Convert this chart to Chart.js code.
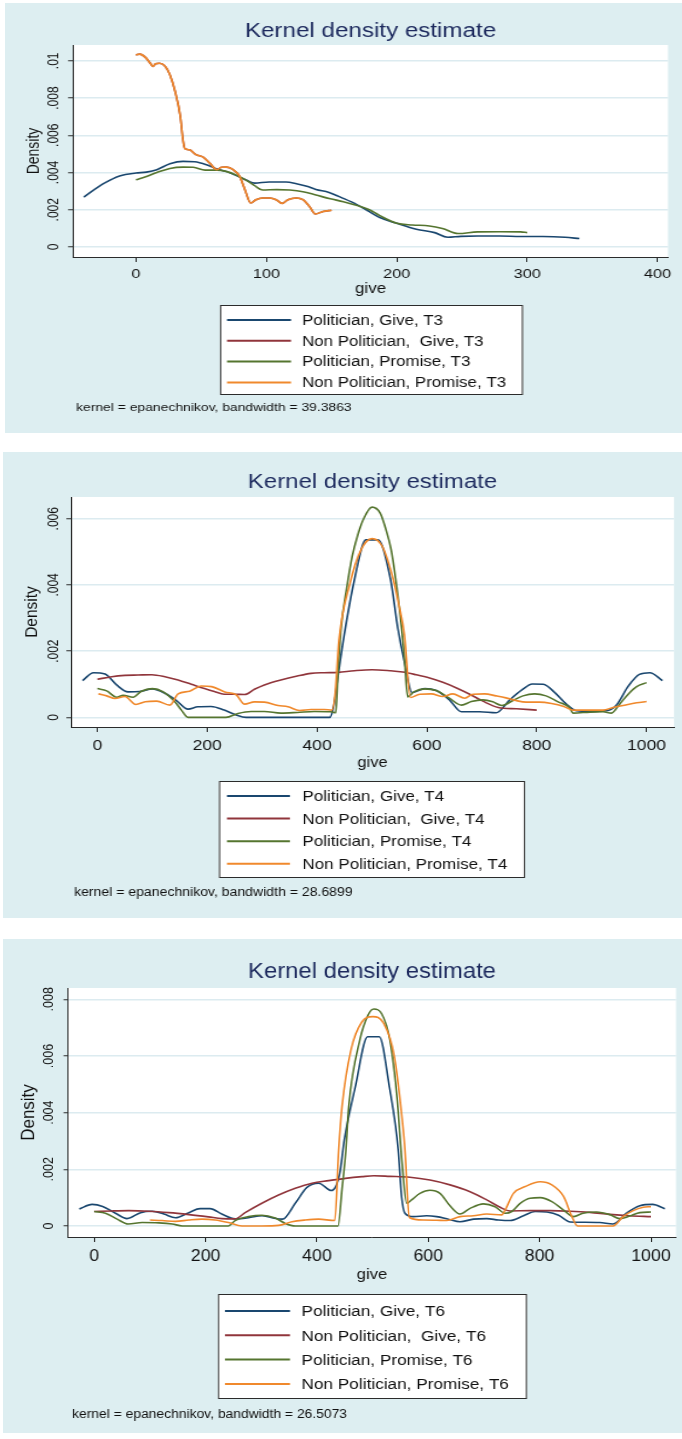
<!DOCTYPE html>
<html>
<head>
<meta charset="utf-8">
<script src="https://cdn.jsdelivr.net/npm/chart.js@4.4.1/dist/chart.umd.min.js"></script>
<style>
  body { margin: 0; width: 682px; height: 1439px; background: #fff; position: relative; overflow: hidden; }
  .panel { position: absolute; background: #ddeef1; }
  .panel canvas { display: block; }
</style>
</head>
<body>
<div class="panel" style="left:5px;top:3px;width:677px;height:430px"><canvas id="t3"></canvas></div>
<div class="panel" style="left:3px;top:452px;width:679px;height:466px"><canvas id="t4"></canvas></div>
<div class="panel" style="left:3px;top:939px;width:679px;height:494px"><canvas id="t6"></canvas></div>
<script>
// ---- T3 ----
const t3Labels = ['Politician, Give, T3', 'Non Politician,  Give, T3', 'Politician, Promise, T3', 'Non Politician, Promise, T3'];
const t3XTicks = [0, 100, 200, 300, 400];
const t3XTickLabels = ['0', '100', '200', '300', '400'];
const t3YTicks = [0, 0.002, 0.004, 0.006, 0.008, 0.01];
const t3YTickLabels = ['0', '.002', '.004', '.006', '.008', '.01'];
const t3Note = 'kernel = epanechnikov, bandwidth = 39.3863';

const t3PolGiveX = [-40, -25, -12, 0, 8, 16, 26, 36, 45, 54, 62, 69, 77, 85, 91, 102, 115, 123, 131, 138, 148, 159, 169, 179, 187, 200, 215, 229, 239, 249, 262, 279, 295, 312, 329, 340];
const t3PolGiveY = [0.00268, 0.0034, 0.00383, 0.00397, 0.00402, 0.00415, 0.00447, 0.0046, 0.00458, 0.00442, 0.00419, 0.00406, 0.00383, 0.00358, 0.00343, 0.00349, 0.00349, 0.0034, 0.00326, 0.00309, 0.00293, 0.00261, 0.00229, 0.0019, 0.00158, 0.00127, 0.00095, 0.00077, 0.00052, 0.00057, 0.00059, 0.00059, 0.00056, 0.00056, 0.00052, 0.00045];

const t3NonGiveX = [0, 3, 7, 11, 13, 15, 18, 22, 26, 30, 34, 36, 37.5, 41, 46, 51.5, 56.5, 62, 65.5, 69.5, 74.5, 79.5, 83.5, 88, 92, 97, 102.5, 107.5, 112, 116.5, 123, 128, 133, 137.5, 143.5, 150];
const t3NonGiveY = [0.01032, 0.01036, 0.0102, 0.00987, 0.0097, 0.00984, 0.00987, 0.00973, 0.00925, 0.00835, 0.00701, 0.00576, 0.00528, 0.00522, 0.00496, 0.00483, 0.00451, 0.00415, 0.00428, 0.00429, 0.00415, 0.00379, 0.00308, 0.00236, 0.00254, 0.00263, 0.00263, 0.00254, 0.00234, 0.00254, 0.00263, 0.00254, 0.00218, 0.00177, 0.00191, 0.00197];

const t3PolPromX = [0, 8, 16, 26, 36, 44, 53, 62, 69, 77, 85, 91, 97, 108, 118, 128, 138, 149, 159, 169, 179, 187, 200, 212, 225, 235, 247, 262, 279, 295, 300];
const t3PolPromY = [0.00361, 0.00379, 0.004, 0.00422, 0.00429, 0.00428, 0.00413, 0.00413, 0.00406, 0.00386, 0.00356, 0.00329, 0.00306, 0.00308, 0.00306, 0.00297, 0.00279, 0.00259, 0.00243, 0.00224, 0.002, 0.00168, 0.00127, 0.00118, 0.00113, 0.00099, 0.00072, 0.00081, 0.00082, 0.00081, 0.00077];

const t3NonPromX = [0, 3, 7, 11, 13, 15, 18, 22, 26, 30, 34, 36, 37.5, 41, 46, 51.5, 56.5, 62, 65.5, 69.5, 74.5, 79.5, 83.5, 88, 92, 97, 102.5, 107.5, 112, 116.5, 123, 128, 133, 137.5, 143.5, 150];
const t3NonPromY = [0.01032, 0.01036, 0.0102, 0.00987, 0.0097, 0.00984, 0.00987, 0.00973, 0.00925, 0.00835, 0.00701, 0.00576, 0.00528, 0.00522, 0.00496, 0.00483, 0.00451, 0.00415, 0.00428, 0.00429, 0.00415, 0.00379, 0.00308, 0.00236, 0.00254, 0.00263, 0.00263, 0.00254, 0.00234, 0.00254, 0.00263, 0.00254, 0.00218, 0.00177, 0.00191, 0.00197];

// ---- T4 ----
const t4Labels = ['Politician, Give, T4', 'Non Politician,  Give, T4', 'Politician, Promise, T4', 'Non Politician, Promise, T4'];
const t4XTicks = [0, 200, 400, 600, 800, 1000];
const t4XTickLabels = ['0', '200', '400', '600', '800', '1000'];
const t4YTicks = [0, 0.002, 0.004, 0.006];
const t4YTickLabels = ['0', '.002', '.004', '.006'];
const t4Note = 'kernel = epanechnikov, bandwidth = 28.6899';

const t4PolGiveX = [-27, -7, 14, 35, 56, 77, 100, 123, 144, 165, 183, 207, 231, 253, 271, 304, 364, 423, 430, 438, 448, 468, 489, 511, 534, 547, 560, 573, 596, 617, 641, 663, 696, 726, 751, 773, 792, 812, 833, 854, 872, 897, 927, 945, 967, 987, 1006, 1029];
const t4PolGiveY = [0.00111, 0.00135, 0.00131, 0.00098, 0.00077, 0.00078, 0.00086, 0.00073, 0.00051, 0.00025, 0.00032, 0.00033, 0.00022, 0.00007, 0, 0, 0, 0, 0.00032, 0.00123, 0.00234, 0.00415, 0.00536, 0.00536, 0.00415, 0.0027, 0.0016, 0.00075, 0.00087, 0.00081, 0.00053, 0.00017, 0.00017, 0.00014, 0.00053, 0.00083, 0.00101, 0.001, 0.00075, 0.0004, 0.0002, 0.00018, 0.0002, 0.00037, 0.00095, 0.0013, 0.00135, 0.00111];

const t4NonGiveX = [0, 26, 50, 74, 99, 123, 147, 171, 195, 213, 231, 250, 268, 286, 304, 334, 364, 389, 413, 438, 468, 500, 532, 556, 580, 605, 629, 654, 678, 702, 730, 763, 800];
const t4NonGiveY = [0.00115, 0.00123, 0.00127, 0.00128, 0.00129, 0.00123, 0.00113, 0.001, 0.00087, 0.00078, 0.0007, 0.0007, 0.00069, 0.00085, 0.00098, 0.00113, 0.00125, 0.00133, 0.00135, 0.00136, 0.00141, 0.00144, 0.00141, 0.00137, 0.00129, 0.00119, 0.00106, 0.00089, 0.0007, 0.00049, 0.0003, 0.00026, 0.00022];

const t4PolPromX = [0, 17, 35, 47, 65, 80, 100, 120, 141, 153, 165, 195, 234, 256, 280, 304, 334, 364, 395, 425, 434, 438, 444, 454, 464, 474, 484, 500, 515, 525, 535, 543, 551, 559, 565, 577, 596, 617, 641, 663, 681, 702, 720, 736, 757, 775, 796, 817, 839, 860, 866, 897, 921, 936, 951, 967, 982, 1000];
const t4PolPromY = [0.00087, 0.0008, 0.00061, 0.00067, 0.00061, 0.00079, 0.00087, 0.00077, 0.00047, 0.00022, 0, 0, 0, 0.00012, 0.00018, 0.00018, 0.00013, 0.00015, 0.00018, 0.00017, 0.00014, 0.0013, 0.00274, 0.0039, 0.00486, 0.0055, 0.00597, 0.00635, 0.00617, 0.0057, 0.00506, 0.0042, 0.00315, 0.00183, 0.00062, 0.00078, 0.00086, 0.00081, 0.00058, 0.00037, 0.00048, 0.00053, 0.00047, 0.00036, 0.00051, 0.00065, 0.00071, 0.00065, 0.00047, 0.00029, 0.00013, 0.00016, 0.00017, 0.00013, 0.0004, 0.00071, 0.00093, 0.00105];

const t4NonPromX = [2, 17, 32, 50, 70, 87, 108, 132, 147, 168, 189, 208, 232, 253, 268, 286, 304, 329, 347, 368, 389, 413, 427, 433, 440, 460, 480, 500, 519, 539, 549, 559, 570, 587, 608, 629, 647, 669, 684, 705, 726, 744, 762, 781, 805, 827, 848, 866, 891, 921, 939, 957, 982, 1000];
const t4NonPromY = [0.00071, 0.00065, 0.00057, 0.00063, 0.00039, 0.00047, 0.00049, 0.00037, 0.00071, 0.00079, 0.00095, 0.00093, 0.00077, 0.00068, 0.0004, 0.00047, 0.00046, 0.00036, 0.00032, 0.00021, 0.00024, 0.00024, 0.00022, 0.00073, 0.00234, 0.00405, 0.00506, 0.0054, 0.00516, 0.00415, 0.0034, 0.0025, 0.0006, 0.0007, 0.00071, 0.00063, 0.00071, 0.00058, 0.0007, 0.00071, 0.00065, 0.00059, 0.00051, 0.00046, 0.00046, 0.00042, 0.00034, 0.00022, 0.00022, 0.00022, 0.0003, 0.00036, 0.00044, 0.00048];

// ---- T6 ----
const t6Labels = ['Politician, Give, T6', 'Non Politician,  Give, T6', 'Politician, Promise, T6', 'Non Politician, Promise, T6'];
const t6XTicks = [0, 200, 400, 600, 800, 1000];
const t6XTickLabels = ['0', '200', '400', '600', '800', '1000'];
const t6YTicks = [0, 0.002, 0.004, 0.006, 0.008];
const t6YTickLabels = ['0', '.002', '.004', '.006', '.008'];
const t6Note = 'kernel = epanechnikov, bandwidth = 26.5073';

const t6PolGiveX = [-27, -4, 15, 38, 59, 83, 104, 125, 146, 170, 190, 208, 229, 253, 277, 301, 319, 338, 361, 382, 403, 426, 441, 449, 469, 491, 512, 530, 546, 552, 558, 573, 597, 615, 636, 657, 681, 705, 726, 747, 771, 792, 813, 834, 855, 878, 908, 932, 956, 980, 1003, 1025];
const t6PolGiveY = [0.0006, 0.00076, 0.00069, 0.00045, 0.00026, 0.00047, 0.00052, 0.00042, 0.00029, 0.00047, 0.00061, 0.00061, 0.00042, 0.00025, 0.00029, 0.00036, 0.00029, 0.00024, 0.0008, 0.00136, 0.00151, 0.00125, 0.00186, 0.00303, 0.00492, 0.00668, 0.00668, 0.00492, 0.00268, 0.00104, 0.00045, 0.00033, 0.00036, 0.00033, 0.00024, 0.00015, 0.00024, 0.00026, 0.00021, 0.00019, 0.00036, 0.00051, 0.00049, 0.00038, 0.00014, 0.00013, 0.00012, 0.00007, 0.00045, 0.00071, 0.00076, 0.00061];

const t6NonGiveX = [0, 32, 62, 98, 134, 170, 205, 229, 253, 271, 301, 331, 361, 391, 421, 451, 481, 502, 531, 567, 603, 639, 675, 705, 729, 747, 783, 819, 855, 890, 926, 962, 1000];
const t6NonGiveY = [0.00051, 0.00053, 0.00054, 0.00052, 0.00047, 0.0004, 0.00032, 0.00026, 0.00025, 0.00047, 0.0008, 0.00109, 0.00133, 0.00151, 0.0016, 0.00168, 0.00174, 0.00177, 0.00175, 0.00172, 0.00162, 0.00145, 0.00121, 0.00092, 0.00066, 0.00053, 0.00054, 0.00054, 0.00052, 0.00048, 0.00041, 0.00036, 0.00033];

const t6PolPromX = [0, 20, 41, 61, 86, 116, 140, 158, 199, 241, 253, 277, 301, 325, 343, 361, 421, 438, 445, 452, 457, 477, 492, 502, 516, 531, 544, 553, 561, 570, 585, 603, 621, 639, 657, 675, 699, 720, 738, 750, 765, 783, 801, 822, 843, 861, 878, 902, 926, 944, 962, 980, 1000];
const t6PolPromY = [0.00051, 0.00045, 0.00024, 0.00007, 0.00012, 0.00011, 0.00007, 0, 0, 0, 0.00019, 0.00033, 0.00038, 0.00028, 0.00009, 0, 0, 0, 0.0013, 0.00268, 0.00421, 0.00656, 0.00745, 0.00766, 0.0075, 0.00656, 0.0045, 0.0022, 0.0008, 0.00092, 0.00115, 0.00126, 0.00115, 0.00071, 0.00042, 0.00062, 0.00078, 0.00068, 0.00045, 0.00051, 0.0008, 0.00098, 0.001, 0.00086, 0.00056, 0.00033, 0.00045, 0.00049, 0.0004, 0.00026, 0.00035, 0.00047, 0.00049];

const t6NonPromX = [100, 122, 146, 170, 193, 217, 241, 265, 301, 331, 355, 379, 403, 432, 439, 445, 461, 481, 500, 520, 539, 555, 558, 566, 591, 615, 633, 657, 681, 705, 732, 738, 753, 774, 801, 822, 843, 858, 868, 902, 932, 950, 968, 986, 1000];
const t6NonPromY = [0.00021, 0.00019, 0.00016, 0.00021, 0.00024, 0.00021, 0.00012, 0, 0, 0.00002, 0.00015, 0.00021, 0.00024, 0.00019, 0.00268, 0.00421, 0.00621, 0.00721, 0.00739, 0.00715, 0.00598, 0.0034, 0.0027, 0.0003, 0.00021, 0.0002, 0.00019, 0.00033, 0.00036, 0.00042, 0.00039, 0.00056, 0.00115, 0.00139, 0.00156, 0.00145, 0.00104, 0.00033, 0, 0, 0, 0.00033, 0.00054, 0.00066, 0.00068];

const lineColors = ['#1a476f', '#90353b', '#55752f', '#f0892c'];
const fam = 'Arial, "Liberation Sans", Helvetica, sans-serif';
Chart.defaults.font.family = fam;

// white plot region behind the curves
const plotRegion = {
  id: 'plotRegion',
  beforeDraw(chart) {
    const { ctx, chartArea: a } = chart;
    ctx.save();
    ctx.fillStyle = '#ffffff';
    ctx.fillRect(a.left, a.top, a.right - a.left, a.bottom - a.top);
    ctx.restore();
  }
};

// stata style legend box + kernel note (coordinates already in canvas units)
const stataLegend = {
  id: 'stataLegend',
  afterDraw(chart, args, o) {
    const ctx = chart.ctx;
    const [bx, by, bw, bh] = o.box;
    ctx.save();
    ctx.fillStyle = '#ffffff';
    ctx.fillRect(bx, by, bw, bh);
    ctx.strokeStyle = '#2b2b2b';
    ctx.lineWidth = 1;
    ctx.strokeRect(bx + 0.5, by + 0.5, bw - 1, bh - 1);
    ctx.font = o.size + 'px ' + fam;
    ctx.textBaseline = 'middle';
    ctx.textAlign = 'left';
    chart.data.datasets.forEach((ds, i) => {
      const y = o.rowY + i * o.rowStep;
      ctx.strokeStyle = ds.borderColor;
      ctx.lineWidth = 2;
      ctx.beginPath();
      ctx.moveTo(o.lineX[0], y);
      ctx.lineTo(o.lineX[1], y);
      ctx.stroke();
      ctx.fillStyle = '#111111';
      ctx.fillText(ds.label, o.textX, y + 1);
    });
    ctx.font = o.noteSize + 'px ' + fam;
    ctx.fillStyle = '#111111';
    ctx.fillText(o.note, o.noteX, o.noteY);
    ctx.restore();
  }
};

function pts(xs, ys) {
  return xs.map((x, i) => ({ x: x, y: ys[i] }));
}

// L holds the layout in page pixels; the canvas is drawn narrower and
// stretched back with css, like the squashed stata export.
function kdChart(id, labels, series, xTicks, xTickLabels, yTicks, yTickLabels, note, L) {
  const canvas = document.getElementById(id);
  const w = Math.round(L.width / L.sx);
  const sx = L.width / w;
  canvas.width = w;
  canvas.height = L.height;
  canvas.style.width = L.width + 'px';
  canvas.style.height = L.height + 'px';
  const g = L.legend;

  return new Chart(canvas, {
    type: 'scatter',
    data: {
      datasets: series.map((s, i) => ({
        label: labels[i],
        data: pts(s[0], s[1]),
        showLine: true,
        borderColor: lineColors[i],
        backgroundColor: lineColors[i],
        borderWidth: 1.6,
        pointRadius: 0,
        pointHoverRadius: 0,
        cubicInterpolationMode: 'monotone',
        order: 4 - i
      }))
    },
    options: {
      responsive: false,
      animation: false,
      devicePixelRatio: 1,
      events: [],
      layout: { padding: { left: 0, top: 0, right: w - L.chartRight / sx, bottom: L.height - L.chartBottom - L.xHeight } },
      plugins: {
        legend: { display: false },
        tooltip: { enabled: false },
        title: {
          display: true,
          fullSize: false,
          text: 'Kernel density estimate',
          color: '#1d2a5e',
          font: { size: L.titleSize, weight: 'normal', lineHeight: 1.2 },
          padding: { top: L.titleMid - 0.6 * L.titleSize, bottom: L.chartTop - L.titleMid - 0.6 * L.titleSize }
        },
        stataLegend: {
          box: [g.box[0] / sx, g.box[1], g.box[2] / sx, g.box[3]],
          rowY: g.rowY, rowStep: g.rowStep,
          lineX: [g.lineX[0] / sx, g.lineX[1] / sx], textX: g.textX / sx, size: g.size,
          note: note, noteX: g.noteX / sx, noteY: g.noteY, noteSize: g.noteSize
        }
      },
      scales: {
        x: {
          type: 'linear',
          min: L.xMin,
          max: L.xMax,
          afterBuildTicks: sc => { sc.ticks = xTicks.map(v => ({ value: v })); },
          afterFit: sc => { sc.height = L.xHeight; },
          grid: { drawOnChartArea: false, tickLength: 5, tickColor: '#2b2b2b', tickWidth: 1 },
          border: { color: '#2b2b2b', width: 1 },
          ticks: {
            color: '#111111', font: { size: L.tickSize }, padding: L.tickMid - 5 - 0.6 * L.tickSize,
            maxRotation: 0, autoSkip: false,
            callback: (v, i) => xTickLabels[i]
          },
          title: {
            display: true, text: 'give', color: '#111111',
            font: { size: L.giveSize, lineHeight: 1.2 },
            padding: { top: 0, bottom: L.xHeight - L.giveMid - 0.6 * L.giveSize }
          }
        },
        y: {
          type: 'linear',
          min: L.yMin,
          max: L.yMax,
          afterBuildTicks: sc => { sc.ticks = yTicks.map(v => ({ value: v })); },
          afterFit: sc => { sc.width = L.chartLeft / sx; },
          grid: { color: '#dcebf0', lineWidth: 1.5, tickLength: 4, tickColor: '#2b2b2b', tickWidth: 1 },
          border: { color: '#2b2b2b', width: 1 },
          ticks: {
            color: '#111111', font: { size: L.yTickSize }, padding: L.yTickPad,
            minRotation: 90, maxRotation: 90, crossAlign: 'center', autoSkip: false,
            callback: (v, i) => yTickLabels[i]
          },
          title: {
            display: true, text: 'Density', color: '#111111',
            font: { size: L.densitySize, lineHeight: 1.2 },
            padding: { top: L.densityMid / sx - 0.6 * L.densitySize, bottom: 0 }
          }
        }
      }
    },
    plugins: [plotRegion, stataLegend]
  });
}

kdChart('t3', t3Labels,
  [[t3PolGiveX, t3PolGiveY], [t3NonGiveX, t3NonGiveY], [t3PolPromX, t3PolPromY], [t3NonPromX, t3NonPromY]],
  t3XTicks, t3XTickLabels, t3YTicks, t3YTickLabels, t3Note, {
    width: 677, height: 430, sx: 1.21,
    xMin: -48.3, xMax: 408, yMin: -0.00054, yMax: 0.01085,
    chartLeft: 68, chartRight: 663, chartTop: 42, chartBottom: 254, xHeight: 45,
    titleSize: 20, titleMid: 28,
    tickSize: 13.5, tickMid: 17.5, giveSize: 14, giveMid: 32.5,
    yTickSize: 12, yTickPad: -0.4, densitySize: 14, densityMid: 29,
    legend: { box: [215, 302, 303, 90], rowY: 317, rowStep: 20.8, lineX: [222, 286], textX: 297, size: 14,
              noteX: 71, noteY: 405, noteSize: 11.5 }
  });

kdChart('t4', t4Labels,
  [[t4PolGiveX, t4PolGiveY], [t4NonGiveX, t4NonGiveY], [t4PolPromX, t4PolPromY], [t4NonPromX, t4NonPromY]],
  t4XTicks, t4XTickLabels, t4YTicks, t4YTickLabels, t4Note, {
    width: 679, height: 466, sx: 1.17,
    xMin: -48, xMax: 1050, yMin: -0.00029, yMax: 0.006656,
    chartLeft: 68, chartRight: 671, chartTop: 45, chartBottom: 275, xHeight: 45,
    titleSize: 20.5, titleMid: 30,
    tickSize: 15, tickMid: 19, giveSize: 14, giveMid: 36,
    yTickSize: 12, yTickPad: -1.4, densitySize: 15.5, densityMid: 29,
    legend: { box: [216, 329, 306, 97], rowY: 344, rowStep: 22.6, lineX: [224, 287], textX: 299.5, size: 14.5,
              noteX: 71, noteY: 441, noteSize: 12 }
  });

kdChart('t6', t6Labels,
  [[t6PolGiveX, t6PolGiveY], [t6NonGiveX, t6NonGiveY], [t6PolPromX, t6PolPromY], [t6NonPromX, t6NonPromY]],
  t6XTicks, t6XTickLabels, t6YTicks, t6YTickLabels, t6Note, {
    width: 679, height: 494, sx: 1.11,
    xMin: -47.2, xMax: 1045, yMin: -0.00039, yMax: 0.0084,
    chartLeft: 65, chartRight: 673, chartTop: 49, chartBottom: 298, xHeight: 48,
    titleSize: 21.5, titleMid: 33,
    tickSize: 16, tickMid: 20, giveSize: 15, giveMid: 38,
    yTickSize: 12.5, yTickPad: 1.2, densitySize: 17, densityMid: 26.4,
    legend: { box: [215, 355, 309, 105], rowY: 372, rowStep: 24.3, lineX: [222, 287], textX: 298.5, size: 15.5,
              noteX: 69, noteY: 476, noteSize: 12.5 }
  });
</script>
</body>
</html>
